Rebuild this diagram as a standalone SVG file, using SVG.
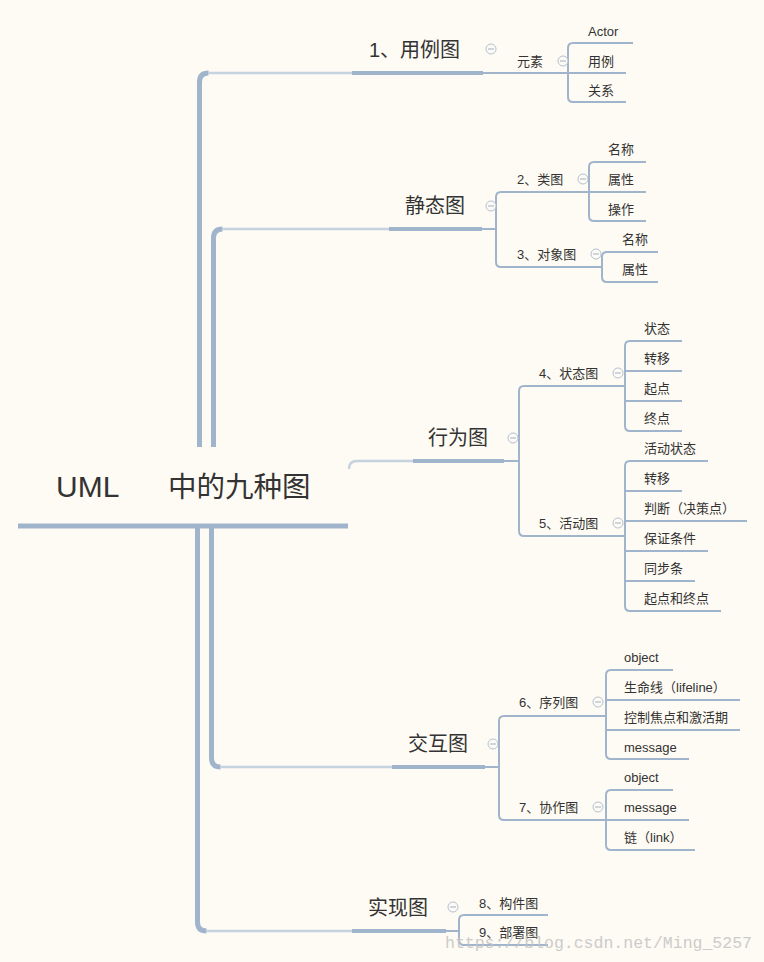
<svg xmlns="http://www.w3.org/2000/svg" width="764" height="962" viewBox="0 0 764 962">
<defs>
<style>
.bg{fill:#fefbf4}
.trunk{fill:none;stroke:#a0b4cc;stroke-width:5}
.thin{fill:none;stroke:#c6d2e0;stroke-width:2.5}
.bar{fill:none;stroke:#a0b4cc;stroke-width:4}
.ln{fill:none;stroke:#a0b4cc;stroke-width:2}
.t{font-family:"Liberation Sans","Noto Sans CJK SC",sans-serif;fill:#333}
.c{font-size:30px}
.l1{font-size:20px}
.l2{font-size:13px}
.ic circle{fill:#fefbf4;stroke:#b3c1d3;stroke-width:1}
.ic line{stroke:#9fb0c4;stroke-width:1}
.wm{font-family:"Liberation Mono",monospace;font-size:16.5px;fill:#c4c4c4;opacity:0.85}
</style>
<g id="icon" class="ic"><circle cx="0" cy="0" r="5"/><line x1="-3" y1="0" x2="3" y2="0"/></g>
</defs>
<rect class="bg" x="0" y="0" width="764" height="962"/>

<g id="connectors">
<path class="trunk" d="M199.5,447 V82 Q199.5,73 208.5,73"/>
<path class="thin" d="M208,73 H353"/>
<path class="trunk" d="M213.5,447 V238 Q213.5,229 222.5,229"/>
<path class="thin" d="M222,229 H390"/>
<path class="trunk" d="M197.5,528 V922 Q197.5,931 206.5,931"/>
<path class="thin" d="M206,931 H353"/>
<path class="trunk" d="M211.5,528 V758 Q211.5,767 220.5,767"/>
<path class="thin" d="M220,767 H393"/>
<path class="thin" d="M349,469 Q349,461 357,461 H414"/>

<path class="ln" d="M483,73 H626"/>
<path class="ln" d="M633,43 H573 Q568,43 568,48 V97 Q568,102 573,102 H626"/>
<path class="ln" d="M482,229 H496"/>
<path class="ln" d="M589,192 H501 Q496,192 496,197 V262 Q496,267 501,267 H602"/>
<path class="ln" d="M646,162 H594 Q589,162 589,167 V216 Q589,221 594,221 H646"/>
<path class="ln" d="M589,192 H646"/>
<path class="ln" d="M658,252 H607 Q602,252 602,257 V277 Q602,282 607,282 H658"/>
<path class="ln" d="M504,461 H519"/>
<path class="ln" d="M625,386 H524 Q519,386 519,391 V531 Q519,536 524,536 H625"/>
<path class="ln" d="M682,341 H630 Q625,341 625,346 V426 Q625,431 630,431 H682"/>
<path class="ln" d="M625,371 H682 M625,401 H682"/>
<path class="ln" d="M708,461 H630 Q625,461 625,466 V606 Q625,611 630,611 H721"/>
<path class="ln" d="M625,491 H682 M625,521 H747 M625,551 H708 M625,581 H695"/>
<path class="ln" d="M485,767 H499"/>
<path class="ln" d="M606,716 H504 Q499,716 499,721 V815 Q499,820 504,820 H606"/>
<path class="ln" d="M673,670 H611 Q606,670 606,675 V754 Q606,759 611,759 H689"/>
<path class="ln" d="M606,700 H740 M606,730 H740"/>
<path class="ln" d="M673,790 H611 Q606,790 606,795 V845 Q606,850 611,850 H695"/>
<path class="ln" d="M606,820 H689"/>
<path class="ln" d="M446,931 H459"/>
<path class="ln" d="M548,915 H464 Q459,915 459,920 V940 Q459,945 464,945 H548"/>

<path class="bar" d="M352,73 H483"/>
<path class="bar" d="M389,229 H482"/>
<path class="bar" d="M413,461 H504"/>
<path class="bar" d="M392,767 H485"/>
<path class="bar" d="M352,931 H446"/>
<path class="trunk" d="M18,526 H348"/>
</g>

<g id="center"><text class="t c" y="497"><tspan x="56">UML</tspan><tspan x="168" font-size="28.5">中的九种图</tspan></text></g>

<g id="n1"><text class="t l1" x="369" y="56.5">1、用例图</text><use href="#icon" x="491" y="49"/></g>
<g id="n1a"><text class="t l2" x="517" y="66">元素</text><use href="#icon" x="563" y="61"/></g>
<g id="n1a1"><text class="t l2" x="588" y="36" font-size="13.5">Actor</text></g>
<g id="n1a2"><text class="t l2" x="588" y="66">用例</text></g>
<g id="n1a3"><text class="t l2" x="588" y="95">关系</text></g>

<g id="n2"><text class="t l1" x="405" y="212.5">静态图</text><use href="#icon" x="491" y="206"/></g>
<g id="n2a"><text class="t l2" x="517" y="184">2、类图</text><use href="#icon" x="583" y="179"/></g>
<g id="n2a1"><text class="t l2" x="608" y="154">名称</text></g>
<g id="n2a2"><text class="t l2" x="608" y="184">属性</text></g>
<g id="n2a3"><text class="t l2" x="608" y="214">操作</text></g>
<g id="n2b"><text class="t l2" x="517" y="259">3、对象图</text><use href="#icon" x="596" y="254"/></g>
<g id="n2b1"><text class="t l2" x="622" y="244">名称</text></g>
<g id="n2b2"><text class="t l2" x="622" y="274">属性</text></g>

<g id="n3"><text class="t l1" x="428" y="444.5">行为图</text><use href="#icon" x="513" y="438"/></g>
<g id="n3a"><text class="t l2" x="539" y="378">4、状态图</text><use href="#icon" x="618" y="373"/></g>
<g id="n3a1"><text class="t l2" x="644" y="333">状态</text></g>
<g id="n3a2"><text class="t l2" x="644" y="363">转移</text></g>
<g id="n3a3"><text class="t l2" x="644" y="393">起点</text></g>
<g id="n3a4"><text class="t l2" x="644" y="423">终点</text></g>
<g id="n3b"><text class="t l2" x="539" y="528">5、活动图</text><use href="#icon" x="618" y="523"/></g>
<g id="n3b1"><text class="t l2" x="644" y="453">活动状态</text></g>
<g id="n3b2"><text class="t l2" x="644" y="483">转移</text></g>
<g id="n3b3"><text class="t l2" x="644" y="513">判断（决策点）</text></g>
<g id="n3b4"><text class="t l2" x="644" y="543">保证条件</text></g>
<g id="n3b5"><text class="t l2" x="644" y="573">同步条</text></g>
<g id="n3b6"><text class="t l2" x="644" y="603">起点和终点</text></g>

<g id="n4"><text class="t l1" x="408" y="750.5">交互图</text><use href="#icon" x="493" y="744"/></g>
<g id="n4a"><text class="t l2" x="519" y="707">6、序列图</text><use href="#icon" x="598" y="702"/></g>
<g id="n4a1"><text class="t l2" x="624" y="662" font-size="13.5">object</text></g>
<g id="n4a2"><text class="t l2" x="624" y="692">生命线（lifeline）</text></g>
<g id="n4a3"><text class="t l2" x="624" y="722">控制焦点和激活期</text></g>
<g id="n4a4"><text class="t l2" x="624" y="752">message</text></g>
<g id="n4b"><text class="t l2" x="519" y="812">7、协作图</text><use href="#icon" x="598" y="807"/></g>
<g id="n4b1"><text class="t l2" x="624" y="782" font-size="13.5">object</text></g>
<g id="n4b2"><text class="t l2" x="624" y="812">message</text></g>
<g id="n4b3"><text class="t l2" x="624" y="842">链（link）</text></g>

<g id="n5"><text class="t l1" x="368" y="914.5">实现图</text><use href="#icon" x="453" y="907"/></g>
<g id="n5a"><text class="t l2" x="479" y="908">8、构件图</text></g>
<g id="n5b"><text class="t l2" x="479" y="937">9、部署图</text></g>

<text class="wm" x="445" y="948">https://blog.csdn.net/Ming_5257</text>
</svg>
